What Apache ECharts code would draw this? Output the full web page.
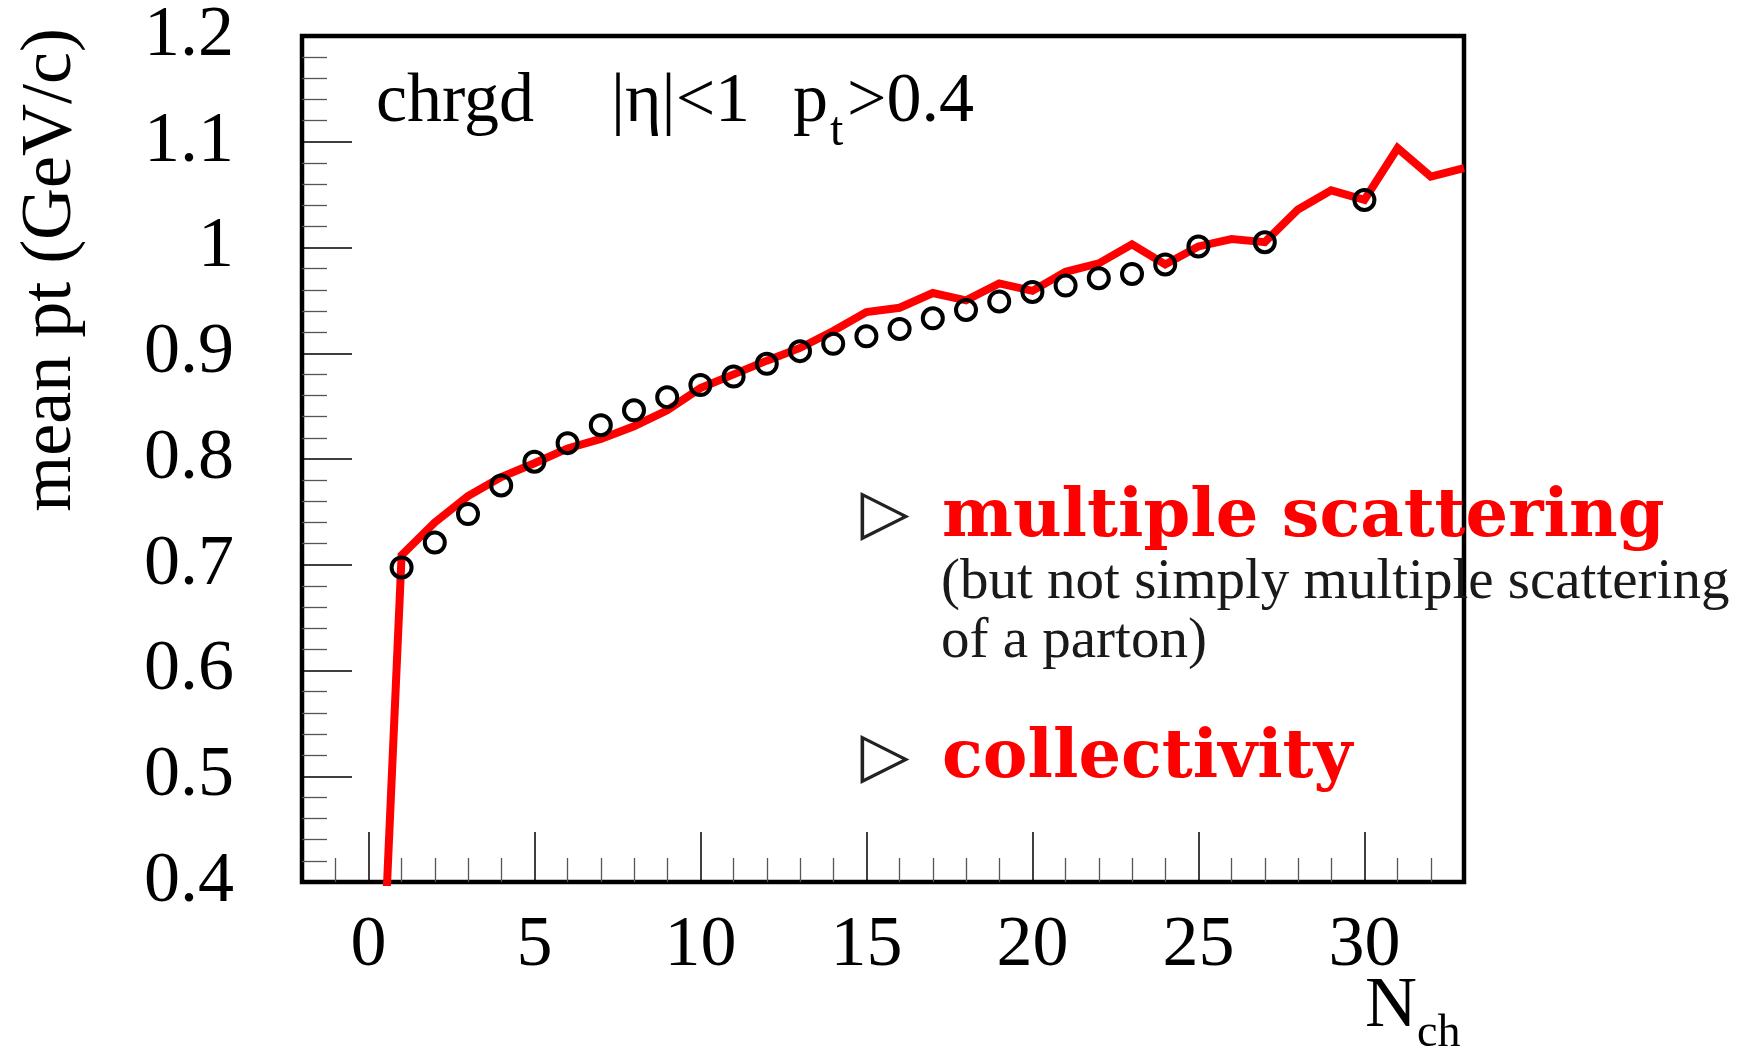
<!DOCTYPE html>
<html>
<head>
<meta charset="utf-8">
<script src="https://cdn.jsdelivr.net/npm/echarts@6/dist/echarts.min.js"></script>
<style>
html,body{margin:0;padding:0;background:#fff;}
#chart{width:1750px;height:1047px;}
</style>
</head>
<body>
<div id="chart"></div>
<script>
// ---- data ----
const lineN = [0,1,2,3,4,5,6,7,8,9,10,11,12,13,14,15,16,17,18,19,20,21,22,23,24,25,26,27,28,29,30,31,32,33];
const lineMeanPt = [0.0,0.709,0.740,0.765,0.783,0.796,0.810,0.819,0.831,0.846,0.867,0.880,0.893,0.905,0.921,0.939,0.943,0.957,0.950,0.966,0.959,0.977,0.985,1.003,0.984,1.001,1.008,1.005,1.036,1.054,1.045,1.094,1.067,1.075];
const pointN = [1,2,3,4,5,6,7,8,9,10,11,12,13,14,15,16,17,18,19,20,21,22,23,24,25,27,30];
const pointMeanPt = [0.6975,0.721,0.748,0.775,0.7975,0.815,0.832,0.846,0.8585,0.870,0.878,0.890,0.902,0.909,0.916,0.923,0.933,0.941,0.949,0.958,0.964,0.971,0.975,0.984,1.001,1.005,1.045];
const xMajorTicks = [0,5,10,15,20,25,30];
const xMinorTicks = [-1,1,2,3,4,6,7,8,9,11,12,13,14,16,17,18,19,21,22,23,24,26,27,28,29,31,32];

const SERIF = '"Liberation Serif"';
const chart = echarts.init(document.getElementById('chart'), null, {renderer:'canvas'});

function txt(text, x, y, font, fill, extra) {
  return Object.assign({
    type: 'text', x: x, y: y, z: 10, silent: true,
    style: {text: text, font: font, fill: fill, textAlign: 'left', textVerticalAlign: 'middle'}
  }, extra || {});
}

const option = {
  animation: false,
  backgroundColor: '#ffffff',
  grid: {left: 302, right: 286, top: 34, bottom: 165, show: true, borderColor: '#000', borderWidth: 4.5, backgroundColor: 'transparent'},
  xAxis: [{
    type: 'value', min: -2, max: 33,
    axisLine: {show: false, onZero: false},
    splitLine: {show: false},
    axisTick: {show: true, inside: true, length: 50, customValues: xMajorTicks, lineStyle: {color: '#000', width: 1.5}},
    axisLabel: {show: true, customValues: xMajorTicks, margin: 28, fontFamily: 'Liberation Serif', fontSize: 72, color: '#000'}
  }, {
    type: 'value', min: -2, max: 33, position: 'bottom',
    axisLine: {show: false, onZero: false},
    splitLine: {show: false},
    axisTick: {show: true, inside: true, length: 24, customValues: xMinorTicks, lineStyle: {color: '#555', width: 1.3}},
    axisLabel: {show: false}
  }],
  yAxis: {
    type: 'value', min: 0.4, max: 1.2, interval: 0.1,
    axisLine: {show: false, onZero: false},
    splitLine: {show: false},
    axisTick: {show: true, inside: true, length: 50, lineStyle: {color: '#000', width: 1.5}},
    minorTick: {show: true, splitNumber: 5, length: 25, lineStyle: {color: '#555', width: 1.3}},
    axisLabel: {margin: 68, fontFamily: 'Liberation Serif', fontSize: 72, color: '#000'}
  },
  series: [{
    type: 'line',
    data: lineN.map((n, i) => [n, lineMeanPt[i]]),
    symbol: 'none',
    clip: true,
    z: 2,
    lineStyle: {color: '#ff0000', width: 8, join: 'miter'}
  }, {
    type: 'scatter',
    data: pointN.map((n, i) => [n, pointMeanPt[i]]),
    symbol: 'circle',
    symbolSize: 20,
    z: 3,
    itemStyle: {color: 'rgba(0,0,0,0)', borderColor: '#000', borderWidth: 4, opacity: 1}
  }],
  graphic: [
    // y axis title (rotated)
    txt('mean pt (GeV/c)', 51, 28, '72px ' + SERIF, '#000', {rotation: Math.PI / 2, style: {text: 'mean pt (GeV/c)', font: '72px ' + SERIF, fill: '#000', textAlign: 'right', textVerticalAlign: 'middle'}}),
    // x axis title N_ch
    txt('N', 1365, 1007, '72px ' + SERIF, '#000'),
    txt('ch', 1417, 1034, '46px ' + SERIF, '#000'),
    // header annotation
    txt('chrgd', 376, 103, '70px ' + SERIF, '#000'),
    txt('|\u03b7|<1', 611, 103, '70px ' + SERIF, '#000'),
    txt('p', 793, 103, '70px ' + SERIF, '#000'),
    txt('t', 830, 132, '48px ' + SERIF, '#000'),
    txt('>0.4', 847, 103, '70px ' + SERIF, '#000'),
    // right-hand remarks
    txt('\u25b7', 885, 516, '64px "DejaVu Sans"', '#222', {style: {text: '\u25b7', font: '64px "DejaVu Sans"', fill: '#222', textAlign: 'center', textVerticalAlign: 'middle'}}),
    txt('multiple scattering', 942, 519, 'bold 67px "DejaVu Serif"', '#ff0000'),
    txt('(but not simply multiple scattering', 941, 583, '57px ' + SERIF, '#1a1a1a'),
    txt('of a parton)', 941, 642, '57px ' + SERIF, '#1a1a1a'),
    txt('\u25b7', 885, 759, '64px "DejaVu Sans"', '#222', {style: {text: '\u25b7', font: '64px "DejaVu Sans"', fill: '#222', textAlign: 'center', textVerticalAlign: 'middle'}}),
    txt('collectivity', 942, 760, 'bold 67px "DejaVu Serif"', '#ff0000')
  ]
};
chart.setOption(option);
</script>
</body>
</html>
